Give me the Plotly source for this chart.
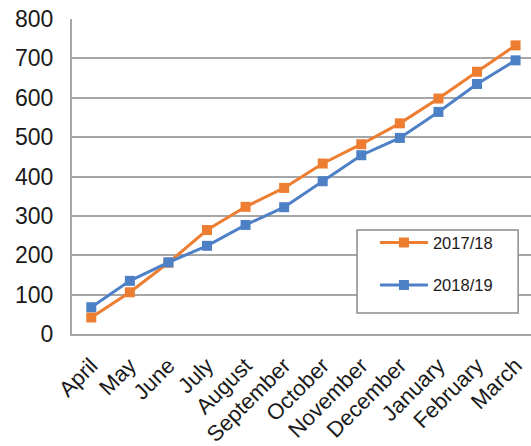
import plotly.graph_objects as go

months = ["April", "May", "June", "July", "August", "September", "October",
          "November", "December", "January", "February", "March"]
season_1718 = [42, 106, 181, 264, 323, 371, 433, 482, 535, 598, 666, 733]
season_1819 = [68, 135, 182, 224, 277, 322, 388, 454, 498, 564, 635, 695]
y_ticks = [0, 100, 200, 300, 400, 500, 600, 700, 800]

ORANGE = "#ED7D31"
BLUE = "#4E80C6"
GRID = "#A6A6A6"
FONT = "Liberation Sans, Arial, sans-serif"

fig = go.Figure()
fig.add_trace(go.Scatter(
    x=months, y=season_1718, name="2017/18", mode="lines+markers",
    line=dict(color=ORANGE, width=3),
    marker=dict(symbol="square", size=10, color=ORANGE),
    legend="legend",
))
fig.add_trace(go.Scatter(
    x=months, y=season_1819, name="2018/19", mode="lines+markers",
    line=dict(color=BLUE, width=3),
    marker=dict(symbol="square", size=10, color=BLUE),
    legend="legend2",
))

# legend frame drawn as a rectangle, one legend entry placed on each row inside it
fig.add_shape(type="rect", xref="paper", yref="paper",
              x0=0.621, x1=0.972, y0=0.067, y1=0.330,
              line=dict(color="#8C8C8C", width=1.5), fillcolor="white", layer="above")

fig.update_layout(
    width=531, height=446,
    margin=dict(l=72, r=0, t=19, b=112),
    paper_bgcolor="white", plot_bgcolor="white",
    font=dict(family=FONT, color="#1a1a1a"),
    showlegend=True,
    legend=dict(x=0.66, y=0.29, xanchor="left", yanchor="middle",
                bgcolor="rgba(0,0,0,0)", font=dict(size=16.5, family=FONT),
                itemwidth=48),
    legend2=dict(x=0.66, y=0.155, xanchor="left", yanchor="middle",
                 bgcolor="rgba(0,0,0,0)", font=dict(size=16.5, family=FONT),
                 itemwidth=48),
    xaxis=dict(range=[-0.5, 11.4], tickangle=-45, showgrid=False,
               showline=True, linecolor=GRID, linewidth=2,
               tickfont=dict(size=22), ticklabelstandoff=8),
    yaxis=dict(range=[0, 800], tickvals=y_ticks, showgrid=True,
               gridcolor=GRID, gridwidth=2, zeroline=False,
               showline=True, linecolor=GRID, linewidth=2,
               tickfont=dict(size=23), ticklabelstandoff=12),
)

fig.write_html("out.html")
